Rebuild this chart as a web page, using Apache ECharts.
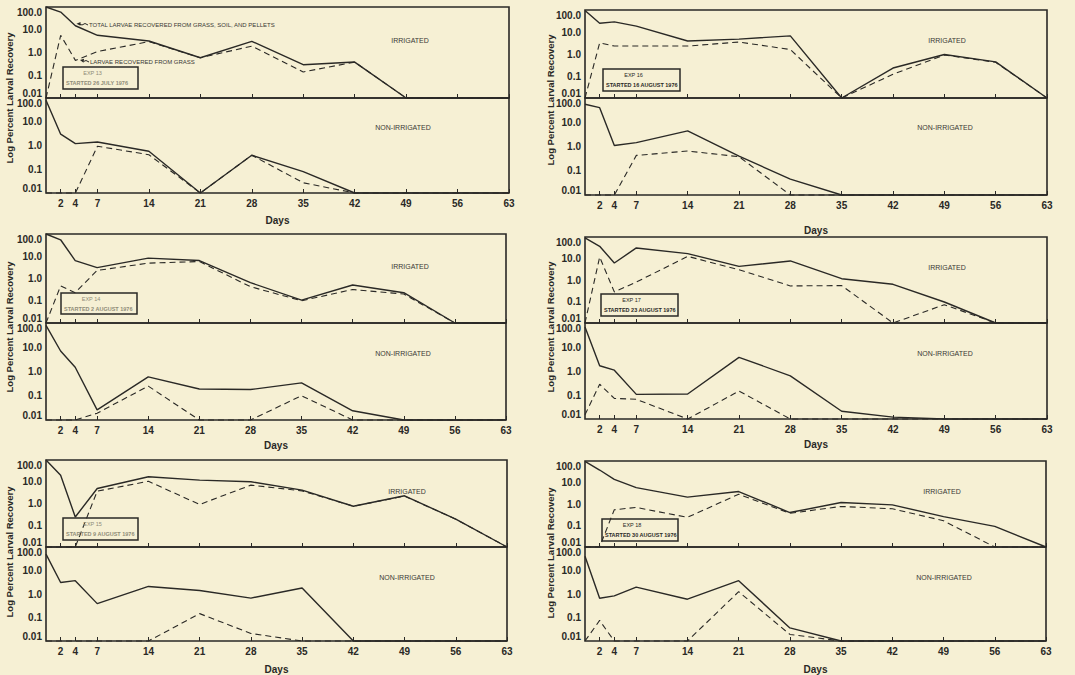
<!DOCTYPE html>
<html><head><meta charset="utf-8">
<script src="https://cdn.jsdelivr.net/npm/echarts@6/dist/echarts.min.js"></script>
<style>html,body{margin:0;padding:0;background:#f6f0d4}#c{width:1075px;height:675px}</style>
</head><body><div id="c"></div><script>
// ---------- data ----------
const days = [0, 2, 4, 7, 14, 21, 28, 35, 42, 49, 56, 63];
const dayTicks = [2, 4, 7, 14, 21, 28, 35, 42, 49, 56, 63];
const yTickLabels = ['0.01', '0.1', '1.0', '10.0', '100.0'];
const expLabels = ['EXP 13', 'EXP 16', 'EXP 14', 'EXP 17', 'EXP 15', 'EXP 18'];
const startLabels = ['STARTED 26 JULY 1976', 'STARTED 16 AUGUST 1976', 'STARTED 2 AUGUST 1976',
  'STARTED 23 AUGUST 1976', 'STARTED 9 AUGUST 1976', 'STARTED 30 AUGUST 1976'];
const totalLabel = 'TOTAL LARVAE RECOVERED FROM GRASS, SOIL, AND PELLETS';
const grassLabel = 'LARVAE RECOVERED FROM GRASS';

// EXP 13
const irr13Total = [100, 60, 15, 5.7, 3.2, 0.59, 3.1, 0.29, 0.38, 0.01, 0.01, 0.01];
const irr13Grass = [0.01, 5.7, 0.45, 1.1, 3.0, 0.59, 1.9, 0.14, 0.38, 0.01, 0.01, 0.01];
const non13Total = [80, 3.0, 1.2, 1.4, 0.57, 0.01, 0.39, 0.08, 0.01, 0.01, 0.01, 0.01];
const non13Grass = [0.01, 0.01, 0.01, 0.93, 0.41, 0.01, 0.39, 0.027, 0.01, 0.01, 0.01, 0.01];
// EXP 16
const irr16Total = [95, 25, 29, 18.6, 3.9, 4.75, 6.7, 0.01, 0.23, 0.95, 0.44, 0.01];
const irr16Grass = [0.01, 3.2, 2.3, 2.3, 2.3, 3.5, 1.6, 0.01, 0.12, 0.9, 0.42, 0.01];
const non16Total = [55, 40, 1.1, 1.45, 4.4, 0.40, 0.045, 0.01, 0.01, 0.01, 0.01, 0.01];
const non16Grass = [0.01, 0.01, 0.01, 0.43, 0.65, 0.38, 0.01, 0.01, 0.01, 0.01, 0.01, 0.01];
// EXP 14
const irr14Total = [100, 55, 6.4, 3.1, 8.2, 6.4, 0.65, 0.107, 0.51, 0.23, 0.01, 0.01];
const irr14Grass = [0.01, 0.46, 0.23, 2.3, 4.9, 5.8, 0.43, 0.1, 0.32, 0.2, 0.01, 0.01];
const non14Total = [80, 7.0, 1.5, 0.026, 0.6, 0.19, 0.18, 0.34, 0.024, 0.01, 0.01, 0.01];
const non14Grass = [0.01, 0.01, 0.01, 0.019, 0.25, 0.01, 0.01, 0.1, 0.01, 0.01, 0.01, 0.01];
// EXP 17
const irr17Total = [90, 37, 6.2, 31, 16.8, 4.3, 7.7, 1.15, 0.63, 0.095, 0.01, 0.01];
const irr17Grass = [0.01, 11.7, 0.28, 0.8, 12.6, 3.0, 0.53, 0.55, 0.01, 0.071, 0.01, 0.01];
const non17Total = [68, 1.65, 1.08, 0.106, 0.11, 3.7, 0.63, 0.021, 0.012, 0.01, 0.01, 0.01];
const non17Grass = [0.015, 0.28, 0.072, 0.066, 0.01, 0.146, 0.01, 0.01, 0.01, 0.01, 0.01, 0.01];
// EXP 15
const irr15Total = [100, 20, 0.24, 4.9, 17, 11.9, 10, 4.1, 0.75, 2.26, 0.19, 0.01];
const irr15Grass = [0.01, 0.01, 0.01, 3.7, 10.5, 0.9, 7.0, 3.8, 0.75, 2.2, 0.19, 0.01];
const non15Total = [50, 3.1, 3.7, 0.39, 2.1, 1.4, 0.67, 1.8, 0.01, 0.01, 0.01, 0.01];
const non15Grass = [0.01, 0.01, 0.01, 0.01, 0.01, 0.146, 0.021, 0.01, 0.01, 0.01, 0.01, 0.01];
// EXP 18
const irr18Total = [97, 38, 14, 5.8, 2.1, 3.8, 0.40, 1.17, 0.91, 0.26, 0.091, 0.01];
const irr18Grass = [0.01, 0.01, 0.54, 0.69, 0.24, 2.85, 0.37, 0.77, 0.6, 0.166, 0.01, 0.01];
const non18Total = [40, 0.66, 0.83, 1.96, 0.6, 3.7, 0.036, 0.01, 0.01, 0.01, 0.01, 0.01];
const non18Grass = [0.01, 0.075, 0.01, 0.01, 0.01, 1.25, 0.019, 0.01, 0.01, 0.01, 0.01, 0.01];

// ---------- layout ----------
const panelData = [
  [irr13Total, irr13Grass, non13Total, non13Grass],
  [irr16Total, irr16Grass, non16Total, non16Grass],
  [irr14Total, irr14Grass, non14Total, non14Grass],
  [irr17Total, irr17Grass, non17Total, non17Grass],
  [irr15Total, irr15Grass, non15Total, non15Grass],
  [irr18Total, irr18Grass, non18Total, non18Grass]
];
const layout = [
  {left: 46, width: 463, top: 7, mid: 98, bottom: 193, gap: 22, ylx: 9, yly: 98, irr: [410, 40], non: [403, 127], box: [63, 67, 75, 22], faded: true},
  {left: 585, width: 462, top: 10, mid: 98, bottom: 195, gap: 30, ylx: 550, yly: 100, irr: [947, 40], non: [945, 127], box: [603, 69, 77, 22], faded: false},
  {left: 46, width: 460, top: 234, mid: 323, bottom: 420, gap: 20, ylx: 9, yly: 327, irr: [410, 266], non: [403, 353], box: [61, 293, 76, 21], faded: true},
  {left: 585, width: 462, top: 237, mid: 323, bottom: 419, gap: 20, ylx: 550, yly: 327, irr: [947, 267], non: [945, 353], box: [601, 294, 77, 22], faded: false},
  {left: 46, width: 461, top: 460, mid: 547, bottom: 643, gap: 23, ylx: 9, yly: 552, irr: [407, 491], non: [944 - 537, 577], box: [63, 518, 75, 22], faded: true},
  {left: 585, width: 461, top: 461, mid: 547, bottom: 644, gap: 23, ylx: 550, yly: 553, irr: [942, 491], non: [944, 577], box: [602, 519, 76, 22], faded: false}
];

const INK = '#2a2926';
const FONT = '"Liberation Sans", Arial, sans-serif';

function yFmt(v) {
  const i = Math.round(Math.log10(v)) + 2;
  const t = yTickLabels[i];
  if (i === 4) return '{top|' + t + '}';
  if (i === 0) return '{bot|' + t + '}';
  return '{mid|' + t + '}';
}
const labStyle = {fontSize: 10, fontWeight: 'bold', color: INK, fontFamily: FONT};

const grids = [], xAxes = [], yAxes = [], series = [], graphics = [];
layout.forEach((L, p) => {
  const parts = [
    {top: L.top, height: L.mid - L.top, isNon: false},
    {top: L.mid, height: L.bottom - L.mid, isNon: true}
  ];
  parts.forEach((P, k) => {
    const gi = grids.length;
    grids.push({left: L.left, top: P.top, width: L.width, height: P.height, show: true,
      borderColor: INK, borderWidth: 1.6, backgroundColor: 'transparent', containLabel: false});
    xAxes.push({
      type: 'value', gridIndex: gi, min: 0, max: 63, splitLine: {show: false},
      axisLine: {show: false},
      axisTick: {show: true, inside: true, length: 4, customValues: dayTicks, lineStyle: {color: INK, width: 1}},
      axisLabel: {show: P.isNon, customValues: dayTicks, margin: 5, ...labStyle},
      name: P.isNon ? 'Days' : '', nameLocation: 'middle', nameGap: L.gap,
      nameTextStyle: {fontSize: 10, fontWeight: 'bold', color: INK, fontFamily: FONT, verticalAlign: 'top'}
    });
    yAxes.push({
      type: 'log', logBase: 10, gridIndex: gi, min: 0.01, max: 100,
      splitLine: {show: false}, axisLine: {show: false}, axisTick: {show: false},
      axisLabel: {margin: 4, formatter: yFmt, showMinLabel: true, showMaxLabel: true,
        rich: {
          top: {...labStyle, padding: [10, 0, 0, 0]},
          bot: {...labStyle, padding: [0, 0, 10, 0]},
          mid: {...labStyle}
        }}
    });
    const tot = panelData[p][k * 2], gr = panelData[p][k * 2 + 1];
    series.push({type: 'line', xAxisIndex: gi, yAxisIndex: gi, showSymbol: false, clip: false,
      data: days.map((d, j) => [d, gr[j]]), z: 2,
      lineStyle: {color: INK, width: 1.1, type: [6, 4]}});
    series.push({type: 'line', xAxisIndex: gi, yAxisIndex: gi, showSymbol: false, clip: false,
      data: days.map((d, j) => [d, tot[j]]), z: 3,
      lineStyle: {color: INK, width: 1.4, type: 'solid'}});
  });

  // annotations
  graphics.push({type: 'text', x: L.irr[0], y: L.irr[1], style: {text: 'IRRIGATED', fontSize: 7, fill: '#3a3935', fontFamily: FONT, align: 'center', verticalAlign: 'middle'}});
  graphics.push({type: 'text', x: L.non[0], y: L.non[1], style: {text: 'NON-IRRIGATED', fontSize: 7, fill: '#3a3935', fontFamily: FONT, align: 'center', verticalAlign: 'middle'}});
  graphics.push({type: 'text', x: L.ylx, y: L.yly, rotation: Math.PI / 2,
    style: {text: 'Log Percent Larval Recovery', fontSize: 9.5, fontWeight: 'bold', fill: INK, fontFamily: FONT, align: 'center', verticalAlign: 'middle'}});
  const B = L.box;
  const tcol = L.faded ? '#8f8c78' : INK;
  graphics.push({type: 'rect', shape: {x: B[0], y: B[1], width: B[2], height: B[3]},
    style: {fill: 'transparent', stroke: INK, lineWidth: 1.5}, z: 10});
  graphics.push({type: 'text', x: B[0] + B[2] / 2 - 8, y: B[1] + 6,
    style: {text: expLabels[p], fontSize: 5.5, fill: tcol, fontFamily: FONT, align: 'center', verticalAlign: 'middle'}, z: 10});
  graphics.push({type: 'text', x: B[0] + 3, y: B[1] + 16,
    style: {text: startLabels[p], fontSize: 5.5, fontWeight: 'bold', fill: tcol, fontFamily: FONT, align: 'left', verticalAlign: 'middle'}, z: 10});
});

// legend annotations (top-left panel)
graphics.push({type: 'text', x: 89, y: 25, style: {text: totalLabel, fontSize: 6, fill: '#3a3935', fontFamily: FONT, align: 'left', verticalAlign: 'middle'}});
graphics.push({type: 'text', x: 90, y: 62, style: {text: grassLabel, fontSize: 6, fill: '#3a3935', fontFamily: FONT, align: 'left', verticalAlign: 'middle'}});
graphics.push({type: 'polyline', shape: {points: [[88, 25], [85, 23.5], [82, 25], [79.5, 24]]}, style: {stroke: INK, lineWidth: 1, fill: null}});
graphics.push({type: 'polygon', shape: {points: [[76.5, 23.8], [80.5, 22], [80.5, 25.8]]}, style: {fill: INK}});
graphics.push({type: 'polyline', shape: {points: [[89, 62], [86, 60.5], [83.5, 61.5]]}, style: {stroke: INK, lineWidth: 1, fill: null}});
graphics.push({type: 'polygon', shape: {points: [[80, 60], [84, 58.8], [83.5, 62.8]]}, style: {fill: INK}});

const chart = echarts.init(document.getElementById('c'), null, {renderer: 'svg'});
chart.setOption({
  backgroundColor: '#f6f0d4',
  animation: false,
  grid: grids, xAxis: xAxes, yAxis: yAxes, series: series, graphic: graphics
});
</script></body></html>
